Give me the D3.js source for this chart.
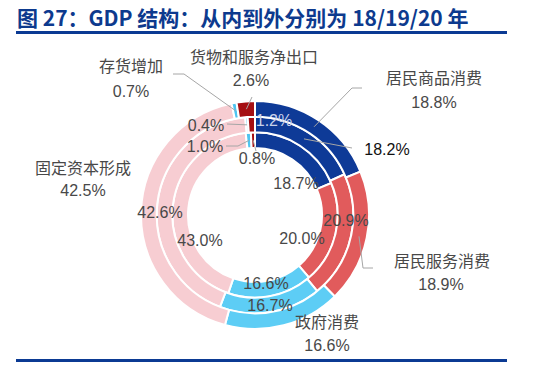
<!DOCTYPE html>
<html>
<head>
<meta charset="utf-8">
<script src="https://cdn.jsdelivr.net/npm/d3@7"></script>
<style>
  html, body { margin: 0; padding: 0; background: #fff; }
  svg { display: block; }
  .lbl { font-family: "Liberation Sans", "Noto Sans CJK SC", sans-serif; font-size: 16px; fill: #484848; }
  .title { font-family: "Noto Sans CJK SC", sans-serif; font-weight: bold; font-size: 21px; fill: #0D3A8E; }
</style>
</head>
<body>
<div id="chart"></div>
<script>
const FRAME_WIDTH = 559;
const FRAME_HEIGHT = 366;
const CX = 255;
const CY = 215;

// data: inner ring = 2018, middle = 2019, outer = 2020
const YEARS = ["2018", "2019", "2020"];
const CATEGORIES = ["居民商品消费", "居民服务消费", "政府消费", "固定资本形成", "存货增加", "货物和服务净出口"];
const SHARE_2018 = [18.7, 20.0, 16.6, 43.0, 1.0, 0.8];
const SHARE_2019 = [18.2, 20.9, 16.7, 42.6, 0.4, 1.2];
const SHARE_2020 = [18.8, 18.9, 16.6, 42.5, 0.7, 2.6];
const SHARES = {"2018": SHARE_2018, "2019": SHARE_2019, "2020": SHARE_2020};

const COLORS = ["#0E3A97", "#E15B5C", "#5DCDF5", "#F7CDD2", "#4FC4F0", "#A50F12"];

// label anchors relative to the centre, leader bends (label side), keyed year-index
const LABEL_LAYOUT = {
  "2020-0": {name: [179, -137], value: [179, -113], leader: [[97, -127], [107, -127]]},
  "2020-1": {name: [187, 46], value: [186, 69], leader: [[108, 53], [118, 53]]},
  "2020-2": {name: [72, 107], value: [72, 130]},
  "2020-3": {name: [-172, -47], value: [-172, -25]},
  "2020-4": {name: [-124, -149], value: [-124, -124], leader: [[-71, -141], [-82, -141]]},
  "2020-5": {name: [-1, -158], value: [-4, -135], leader: [[-3, -118]]},
  "2019-0": {value: [132, -66], leader: [[97, -67]], fill: "#111"},
  "2019-1": {value: [91, 5]},
  "2019-2": {value: [15, 90]},
  "2019-3": {value: [-95, -3]},
  "2019-4": {value: [-49, -90], leader: [[-28, -91]]},
  "2019-5": {value: [19, -95], fill: "#C9D2EA"},
  "2018-0": {value: [41, -32]},
  "2018-1": {value: [47, 23]},
  "2018-2": {value: [11, 68]},
  "2018-3": {value: [-55, 25]},
  "2018-4": {value: [-50, -69], leader: [[-17, -69], [-29, -69]]},
  "2018-5": {value: [2, -57], leader: [[1, -64]]}
};

const svg = d3.select("#chart")
  .append("svg")
    .attr("width", FRAME_WIDTH)
    .attr("height", FRAME_HEIGHT);

// title and rules
svg.append("text")
  .attr("class", "title")
  .attr("x", 17)
  .attr("y", 26)
  .text("图 27：GDP 结构：从内到外分别为 18/19/20 年");

svg.append("rect").attr("x", 16).attr("y", 31).attr("width", 491).attr("height", 3).attr("fill", "#0B3A93");
svg.append("rect").attr("x", 16).attr("y", 359).attr("width", 491).attr("height", 3).attr("fill", "#0B3A93");

// ring radius scale
const R_SCALE = d3.scaleBand()
  .domain(YEARS)
  .range([67, 114]);

const pie = d3.pie().sort(null).value((d) => d);

const G = svg.append("g").attr("transform", "translate(" + CX + "," + CY + ")");
const leaders = [];
const labels = [];

YEARS.forEach((year) => {
  const arc = d3.arc()
    .innerRadius(R_SCALE(year))
    .outerRadius(R_SCALE(year) + R_SCALE.bandwidth());

  const arcs = pie(SHARES[year]);

  G.append("g").selectAll("path")
    .data(arcs)
    .enter()
    .append("path")
      .attr("d", arc)
      .attr("fill", (d, i) => COLORS[i])
      .attr("stroke", "#fff")
      .attr("stroke-width", 2);

  arcs.forEach((d, i) => {
    const lay = LABEL_LAYOUT[year + "-" + i];
    if (!lay) return;
    if (lay.leader) {
      leaders.push([arc.centroid(d)].concat(lay.leader));
    }
    if (lay.name) {
      labels.push({x: lay.name[0], y: lay.name[1], text: CATEGORIES[i], fill: lay.fill});
    }
    labels.push({x: lay.value[0], y: lay.value[1], text: d.data.toFixed(1) + "%", fill: lay.fill});
  });
});

G.selectAll(".leader")
  .data(leaders)
  .enter()
  .append("path")
    .attr("class", "leader")
    .attr("d", d3.line())
    .attr("fill", "none")
    .attr("stroke", "#A6A6A6")
    .attr("stroke-width", 1);

G.selectAll(".lbl")
  .data(labels)
  .enter()
  .append("text")
    .attr("class", "lbl")
    .attr("x", (d) => d.x)
    .attr("y", (d) => d.y)
    .attr("dy", "0.36em")
    .attr("text-anchor", "middle")
    .style("fill", (d) => d.fill || null)
    .text((d) => d.text);
</script>
</body>
</html>
